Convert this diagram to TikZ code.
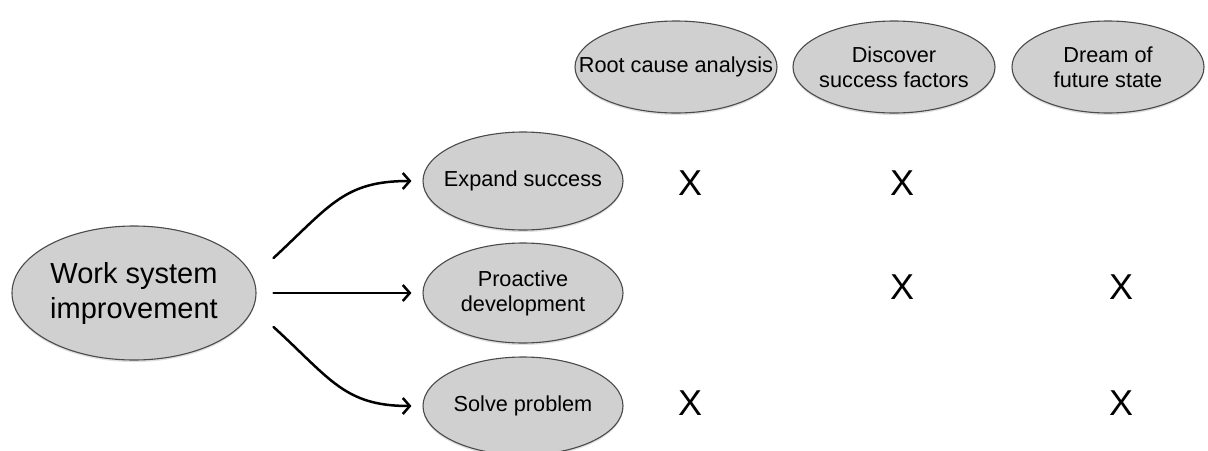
\documentclass[tikz,border=0pt]{standalone}
\usepackage{fontspec}
\setmainfont{Liberation Sans}
\usetikzlibrary{shapes.geometric,arrows.meta,shadows}
\definecolor{bubblefill}{HTML}{D0D0D0}
\definecolor{bubblerim}{HTML}{4A4A4A}
\begin{document}
\begin{tikzpicture}[x=1pt,y=-1pt,
  % the ellipse size is set only by minimum width/height; text may overhang
  bubble/.style={ellipse, draw=bubblerim, line width=1.1pt, fill=bubblefill,
    inner sep=-200pt, align=center,
    drop shadow={opacity=0.25, shadow xshift=0pt, shadow yshift=-2pt}},
  bigtext/.style={font=\fontsize{29}{35}\selectfont},
  midtext/.style={font=\fontsize{21.7}{25}\selectfont},
  xmark/.style={font=\fontsize{36}{36}\selectfont, inner sep=0pt},
  link/.style={line width=2.5pt, line cap=round,
    -{Straight Barb[length=7pt,width=16pt,line width=2.5pt]}}
]
% canvas
\fill[white] (0,0) rectangle (1208,450);
\path[use as bounding box] (0,0) rectangle (1208,450);

% root of the tree
\node[bubble, bigtext, minimum width=244pt, minimum height=134pt] (w) at (134,293)
  {Work system\\improvement};

% the three kinds of improvement
\node[bubble, midtext, minimum width=200pt, minimum height=98pt] (es) at (523,181) {Expand success};
\node[bubble, midtext, minimum width=200pt, minimum height=100pt] (pd) at (523,293) {Proactive\\development};
\node[bubble, midtext, minimum width=200pt, minimum height=98pt] (sp) at (523,406) {Solve problem};

% column headings
\node[bubble, midtext, minimum width=202pt, minimum height=92pt] (rc) at (676,67) {Root cause analysis};
\node[bubble, midtext, minimum width=202pt, minimum height=92pt] (ds) at (894,67) {Discover\\success factors};
\node[bubble, midtext, minimum width=192pt, minimum height=92pt] (df) at (1108,67) {Dream of\\future state};

% connectors
\draw[link] ([shift={(17,-35)}]w.east) .. controls +(57,-53) and +(-67,0) .. ([xshift=-11pt]es.west);
\draw[link] ([xshift=17pt]w.east) -- ([xshift=-11pt]pd.west);
\draw[link] ([shift={(17,34)}]w.east) .. controls +(57,52) and +(-67,0) .. ([xshift=-11pt]sp.west);

% matrix of marks
\node[xmark] (x11) at (690,183) {X};
\node[xmark] (x12) at (902,183) {X};
\node[xmark] (x22) at (902,287) {X};
\node[xmark] (x23) at (1121,287) {X};
\node[xmark] (x31) at (690,403) {X};
\node[xmark] (x33) at (1121,403) {X};
\end{tikzpicture}
\end{document}
